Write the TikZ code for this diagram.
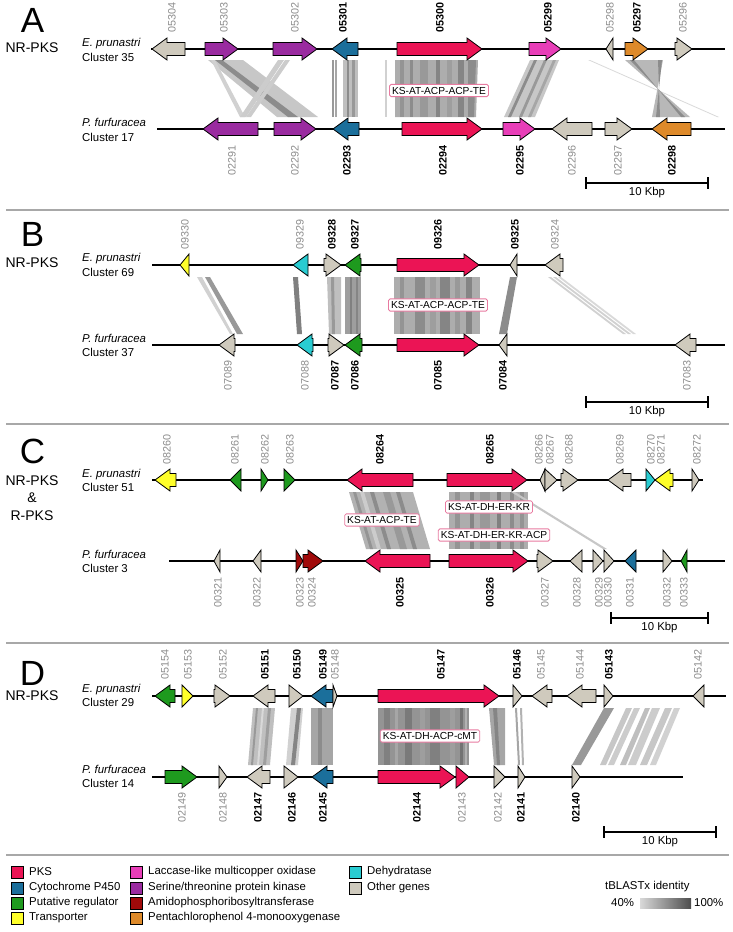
\documentclass[tikz,border=0pt]{standalone}
\usepackage{fontspec}
\setmainfont{Liberation Sans}
\usepackage{tikz}
\usetikzlibrary{calc}

\newcommand{\labfont}{\fontsize{10.8}{12}\selectfont}
\newcommand{\txtfont}{\fontsize{11.4}{14.5}\selectfont}

% one gene arrow: tail x, tip x, track y, fill colour
\newcommand{\gene}[4]{%
  \pgfmathsetmacro{\gh}{sign(#2-#1)*min(15,abs(#2-#1))}%
  \pgfmathsetmacro{\gk}{#2-\gh}%
  \filldraw[gene,fill=#4] (#1,#3-6.5) -- (\gk,#3-6.5) -- (\gk,#3-11) -- (#2,#3)
    -- (\gk,#3+11) -- (\gk,#3+6.5) -- (#1,#3+6.5) -- cycle;}

% a row of genes: track y, label offset, label anchor, list
\newcommand{\generow}[4]{%
  \foreach \xa/\xb/\col/\lx/\id/\sty in {#4}{%
    \gene{\xa}{\xb}{#1}{\col}
    \node[\sty,anchor=#3] (g\id) at (\lx,{#1+(#2)}) {\id};
  }}

% homology bands: top y, bottom y, list
\newcommand{\bands}[3]{%
  \foreach \ua/\ub/\la/\lb/\sh in {#3}
    \fill[black!\sh] (\ua,#1) -- (\ub,#1) -- (\lb,#2) -- (\la,#2) -- cycle;}

\begin{document}
\begin{tikzpicture}
  [x=1pt,y=-1pt,
  %Styles
  gene/.style={draw=black,line width=0.8pt,line join=miter},
  track/.style={line width=2.2pt},
  glab/.style={rotate=90,inner sep=0pt,text=labgray,font=\labfont},
  gbold/.style={rotate=90,inner sep=0pt,font=\labfont\bfseries},
  species/.style={align=left,anchor=west,inner sep=0pt,font=\txtfont},
  dombox/.style={draw=boxpink,fill=white,rounded corners=1.5pt,line width=0.8pt,
    inner sep=2.5pt,font=\fontsize{10.2}{12}\selectfont},
  panel/.style={inner sep=0pt,font=\fontsize{35}{35}\selectfont},
  kind/.style={align=center,inner sep=0pt,font=\fontsize{14}{17.5}\selectfont},
  sepline/.style={draw=sepgray,line width=2.5pt},
  scalebar/.style={line width=1.2pt},
  legbox/.style={draw=black,line width=0.9pt},
  legtext/.style={anchor=west,inner sep=0pt,font=\txtfont}
  ]

  %Colors
  \definecolor{pks}{HTML}{EB1455}
  \definecolor{cyp}{HTML}{1B6F9B}
  \definecolor{reg}{HTML}{1E9A1E}
  \definecolor{trans}{HTML}{FFFF2A}
  \definecolor{laccase}{HTML}{E83EB8}
  \definecolor{kinase}{HTML}{9A2BA0}
  \definecolor{amido}{HTML}{A00A0A}
  \definecolor{pcp}{HTML}{DE8A2A}
  \definecolor{dehyd}{HTML}{29CCD2}
  \definecolor{other}{HTML}{CFCABD}
  \definecolor{boxpink}{HTML}{E87AA0}
  \definecolor{sepgray}{HTML}{A8A8A8}
  \definecolor{labgray}{HTML}{8C8C8C}

  \useasboundingbox (0,0) rectangle (733,932);

  %Panel A
  \node[panel] (pA) at (32.5,20) {A};
  \node[kind] (kA) at (32,48) {NR-PKS};
  \node[species] (eA) at (82,50) {\textit{E. prunastri}\\Cluster 35};
  \node[species] (fA) at (82,130) {\textit{P. furfuracea}\\Cluster 17};
  \bands{60}{117}{208/243/277/318/22, 211/215/240/245/18, 215/222/288/298/45,
    278/284/240/246/20, 285/290/246/251/20,
    332/334/332/334/40, 335/337/335/337/35, 343/358/343/358/25, 347/349/347/349/45, 352/355/352/355/40,
    385/387/385/387/18, 395/478/395/476/32, 400/404/400/404/42, 410/413/410/413/45, 420/428/420/428/40,
    436/440/436/440/48, 447/452/447/452/38, 458/464/458/464/48, 468/476/468/474/45,
    530/559/504/535/22, 534/537/508/511/45, 544/547/519/522/40, 553/556/528/531/35,
    588/590/717/719/15, 625/663/690/652/28, 630/634/685/681/45, 658/662/660/656/45}
  \draw[track] (151,49) -- (725,49);
  \draw[track] (157,129) -- (725,129);
  \generow{49}{-16}{west}{185/152/other/172/05304/glab, 205/238/kinase/224/05303/glab,
    273/317/kinase/295/05302/glab, 358/332/cyp/343/05301/gbold, 397/482/pks/440/05300/gbold,
    529/561/laccase/548/05299/gbold, 613/606/other/610/05298/glab, 625/648/pcp/637/05297/gbold,
    675/692/other/683/05296/glab}
  \generow{129}{16}{east}{258/203/kinase/232/02291/glab, 274/316/kinase/295/02292/glab,
    359/333/cyp/347/02293/gbold, 402/482/pks/443/02294/gbold, 503/535/laccase/520/02295/gbold,
    592/552/other/572/02296/glab, 605/632/other/618/02297/glab, 691/652/pcp/672/02298/gbold}
  \node[dombox] (dA) at (439,90.5) {KS-AT-ACP-ACP-TE};

  %Panel B
  \draw[sepline] (6,210) -- (729,210);
  \node[panel] (pB) at (32.5,234.5) {B};
  \node[kind] (kB) at (32,263) {NR-PKS};
  \node[species] (eB) at (82,265) {\textit{E. prunastri}\\Cluster 69};
  \node[species] (fB) at (82,345.5) {\textit{P. furfuracea}\\Cluster 37};
  \bands{277}{334}{197/202/230/233/18, 205/210/237/243/40, 293/298/297/302/50,
    327/341/329/341/25, 331/334/332/335/40, 345/361/345/361/38, 350/352/350/352/50, 356/358/356/358/48,
    394/480/394/480/32, 400/404/400/404/42, 415/425/415/425/45, 430/436/430/436/38,
    440/450/440/450/48, 455/460/455/460/40, 466/472/466/472/48,
    510/517/499/507/45, 548/551/623/626/18, 553/556/628/631/18, 558/561/633/636/15}
  \draw[track] (152,265) -- (563,265);
  \draw[track] (152,345) -- (725,345);
  \generow{265}{-15}{west}{189/180/trans/185/09330/glab, 308/293/dehyd/300/09329/glab,
    324/341/other/332/09328/gbold, 361/345/reg/355/09327/gbold, 397/479/pks/438/09326/gbold,
    517/510/other/515/09325/gbold, 563/545/other/555/09324/glab}
  \generow{345}{15}{east}{235/219/other/228/07089/glab, 313/297/dehyd/305/07088/glab,
    328/344/other/335/07087/gbold, 362/345/reg/355/07086/gbold, 397/479/pks/438/07085/gbold,
    507/499/other/503/07084/gbold, 696/675/other/687/07083/glab}
  \node[dombox] (dB) at (438,305) {KS-AT-ACP-ACP-TE};

  %Panel C
  \draw[sepline] (6,424) -- (729,424);
  \node[panel] (pC) at (32.5,451) {C};
  \node[kind] (kC) at (32,498) {NR-PKS\\\&\\R-PKS};
  \node[species] (eC) at (82,480.5) {\textit{E. prunastri}\\Cluster 51};
  \node[species] (fC) at (82,561.5) {\textit{P. furfuracea}\\Cluster 3};
  \bands{492}{549}{349/413/366/430/30, 353/356/370/373/42, 360/364/377/381/20, 370/374/387/391/45,
    383/390/400/407/40, 396/400/413/417/45,
    449/528/449/528/32, 455/460/455/460/42, 470/474/470/474/48, 480/490/480/490/40,
    497/501/497/501/50, 510/514/510/514/45, 520/524/520/524/42, 511/515/603/607/22}
  \draw[track] (152,480) -- (703,480);
  \draw[track] (169,561) -- (725,561);
  \generow{480}{-15}{west}{176/155/trans/167/08260/glab, 241/230/reg/235/08261/glab,
    261/268/reg/265/08262/glab, 284/295/reg/290/08263/glab, 413/347/pks/380/08264/gbold,
    447/527/pks/490/08265/gbold, 545/540/other/539/08266/glab, 545/557/other/550/08267/glab,
    561/578/other/569/08268/glab, 631/608/other/620/08269/glab, 646/655/dehyd/651/08270/glab,
    673/655/trans/661/08271/glab, 692/699/other/697/08272/glab}
  \generow{561}{16}{east}{220/214/other/218/00321/glab, 261/253/other/257/00322/glab,
    296/303/amido/300/00323/glab, 303/323/amido/312/00324/glab, 430/365/pks/400/00325/gbold,
    449/528/pks/490/00326/gbold, 537/553/other/545/00327/glab, 582/570/other/577/00328/glab,
    593/603/other/599/00329/glab, 604/614/other/608/00330/glab, 636/625/cyp/630/00331/glab,
    663/672/other/667/00332/glab, 687/681/reg/684/00333/glab}
  \node[dombox] (dC1) at (382,520) {KS-AT-ACP-TE};
  \node[dombox] (dC2) at (489,507) {KS-AT-DH-ER-KR};
  \node[dombox] (dC3) at (494,535) {KS-AT-DH-ER-KR-ACP};

  %Panel D
  \draw[sepline] (6,643) -- (729,643);
  \node[panel] (pD) at (32.5,673) {D};
  \node[kind] (kD) at (32,696) {NR-PKS};
  \node[species] (eD) at (82,695.5) {\textit{E. prunastri}\\Cluster 29};
  \node[species] (fD) at (82,776.5) {\textit{P. furfuracea}\\Cluster 14};
  \bands{708}{765}{253/275/248/270/25, 256/258/251/253/40, 262/264/257/259/15, 268/271/263/266/38,
    291/303/286/298/18, 297/301/291/295/48, 311/333/311/333/35, 318/322/318/322/45,
    378/469/378/469/42, 384/390/384/390/50, 395/398/395/398/35, 405/412/405/412/52,
    420/425/420/425/38, 430/440/430/440/50, 450/455/450/455/38, 460/463/460/463/55, 465/467/465/467/30,
    489/505/494/505/35, 493/497/497/500/48, 515/517/518/520/35, 520/522/522/524/30,
    604/614/572/581/40, 626/632/600/606/22, 634/640/608/614/20, 645/650/620/626/25,
    652/660/628/636/20, 665/672/640/647/22, 674/680/650/656/18}
  \draw[track] (152,696) -- (726,696);
  \draw[track] (152,777) -- (683,777);
  \generow{696}{-16}{west}{175/155/reg/165/05154/glab, 182/193/trans/188/05153/glab,
    214/230/other/223/05152/glab, 275/253/other/265/05151/gbold, 289/303/other/297/05150/gbold,
    333/311/cyp/323/05149/gbold, 333/337/other/335/05148/glab, 378/499/pks/441/05147/gbold,
    513/522/other/517/05146/gbold, 552/532/other/541/05145/glab, 596/567/other/580/05144/glab,
    604/613/other/609/05143/gbold, 704/693/other/698/05142/glab}
  \generow{777}{15}{east}{165/197/reg/182/02149/glab, 219/227/other/223/02148/glab,
    270/247/other/258/02147/gbold, 284/298/other/292/02146/gbold, 333/312/cyp/323/02145/gbold,
    378/455/pks/417/02144/gbold, 456/469/pks/462/02143/glab, 494/505/other/498/02142/glab,
    518/525/other/521/02141/gbold, 572/580/other/576/02140/gbold}
  \node[dombox] (dD) at (430,736) {KS-AT-DH-ACP-cMT};

  %Scale bars
  \foreach \p/\xa/\xb/\y in {A/586/708/183, B/586/708/402, C/611/708/618, D/604/716/832}{
    \coordinate (s\p1) at (\xa,\y);
    \coordinate (s\p2) at (\xb,\y);
    \draw[scalebar] (s\p1) -- (s\p2);
    \draw[scalebar] ([yshift=6pt]s\p1) -- ([yshift=-6pt]s\p1);
    \draw[scalebar] ([yshift=6pt]s\p2) -- ([yshift=-6pt]s\p2);
    \node[inner sep=0pt,font=\txtfont] (kb\p) at ($(s\p1)!0.5!(s\p2)+(0,10)$) {10 Kbp};
  }

  %Legend
  \draw[sepline] (6,855) -- (729,855);
  \foreach \lx/\ly/\col/\txt in {11/872/pks/PKS, 11/888/cyp/Cytochrome P450,
    11/903/reg/Putative regulator, 11/918/trans/Transporter,
    130/872/laccase/Laccase-like multicopper oxidase, 130/888/kinase/{Serine/threonine protein kinase},
    130/903/amido/Amidophosphoribosyltransferase, 130/918/pcp/Pentachlorophenol 4-monooxygenase,
    349/872/dehyd/Dehydratase, 349/888/other/Other genes}{
    \filldraw[legbox,fill=\col] (\lx,\ly-6) rectangle ++(12,12);
    \node[legtext] (l\col) at (\lx+18,\ly) {\txt};
  }
  \node[legtext] (tbx) at (605,887) {tBLASTx identity};
  \node[legtext] (p40) at (611,903) {40\%};
  \shade[left color=black!15,right color=black!70] (640,898) rectangle (691,908);
  \node[legtext] (p100) at (694,903) {100\%};
\end{tikzpicture}
\end{document}
